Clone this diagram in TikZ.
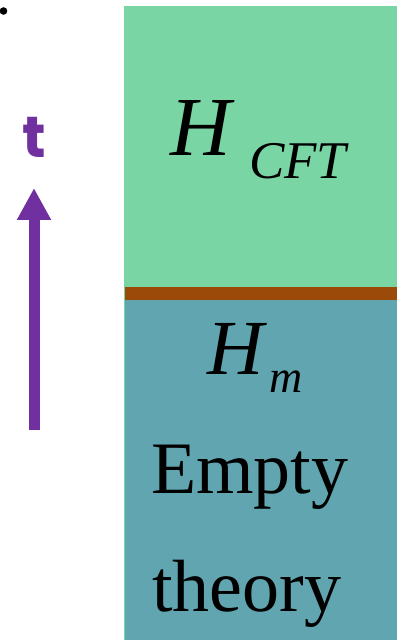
\documentclass[tikz,border=0pt]{standalone}
\usepackage{fontspec}
\setmainfont{Liberation Serif}
\newfontfamily\tfont{Poppins}
\usetikzlibrary{arrows.meta}
\definecolor{cftgreen}{HTML}{79D5A4}
\definecolor{wallbrown}{HTML}{9B4A0A}
\definecolor{emptyteal}{HTML}{60A5B0}
\definecolor{tpurple}{HTML}{7030A0}
\tikzset{
  lbl/.style={anchor=base west, inner sep=0pt, text=black},
}
\begin{document}
\begin{tikzpicture}[x=1pt,y=1pt]
\useasboundingbox (0,0) rectangle (403,640);
\fill[white] (0,0) rectangle (403,640);
% regions
\fill[cftgreen] (124,0) rectangle (397,634);
\fill[emptyteal] (125,0) rectangle (397,340);
\fill[wallbrown] (125,340) rectangle (397,353);
% dot
\fill[black] (3.5,629) circle (3.8);
% time arrow
\coordinate (a0) at (34,210);
\coordinate (a1) at (34,452);
\draw[tpurple, line width=11pt, -{Triangle[length=32pt,width=32pt]}] (a0) -- (a1);
\node[anchor=base, inner sep=0pt, text=tpurple, font=\tfont\bfseries\fontsize{58}{60}\selectfont] (t) at (34,482) {t};
% labels
\node[lbl, font=\fontsize{84}{86}\selectfont\itshape] (hc) at (170,484) {H};
\node[lbl, font=\fontsize{53}{55}\selectfont\itshape] (cft) at (249,461) {CFT};
\node[lbl, font=\fontsize{78}{80}\selectfont\itshape] (hm) at (207,265) {H};
\node[lbl, font=\fontsize{46}{48}\selectfont\itshape] (m) at (269,247) {m};
\node[lbl, font=\fontsize{74}{76}\selectfont] (e) at (151,146) {Empty};
\node[lbl, font=\fontsize{74}{76}\selectfont] (th) at (152,28) {theory};
\end{tikzpicture}
\end{document}
